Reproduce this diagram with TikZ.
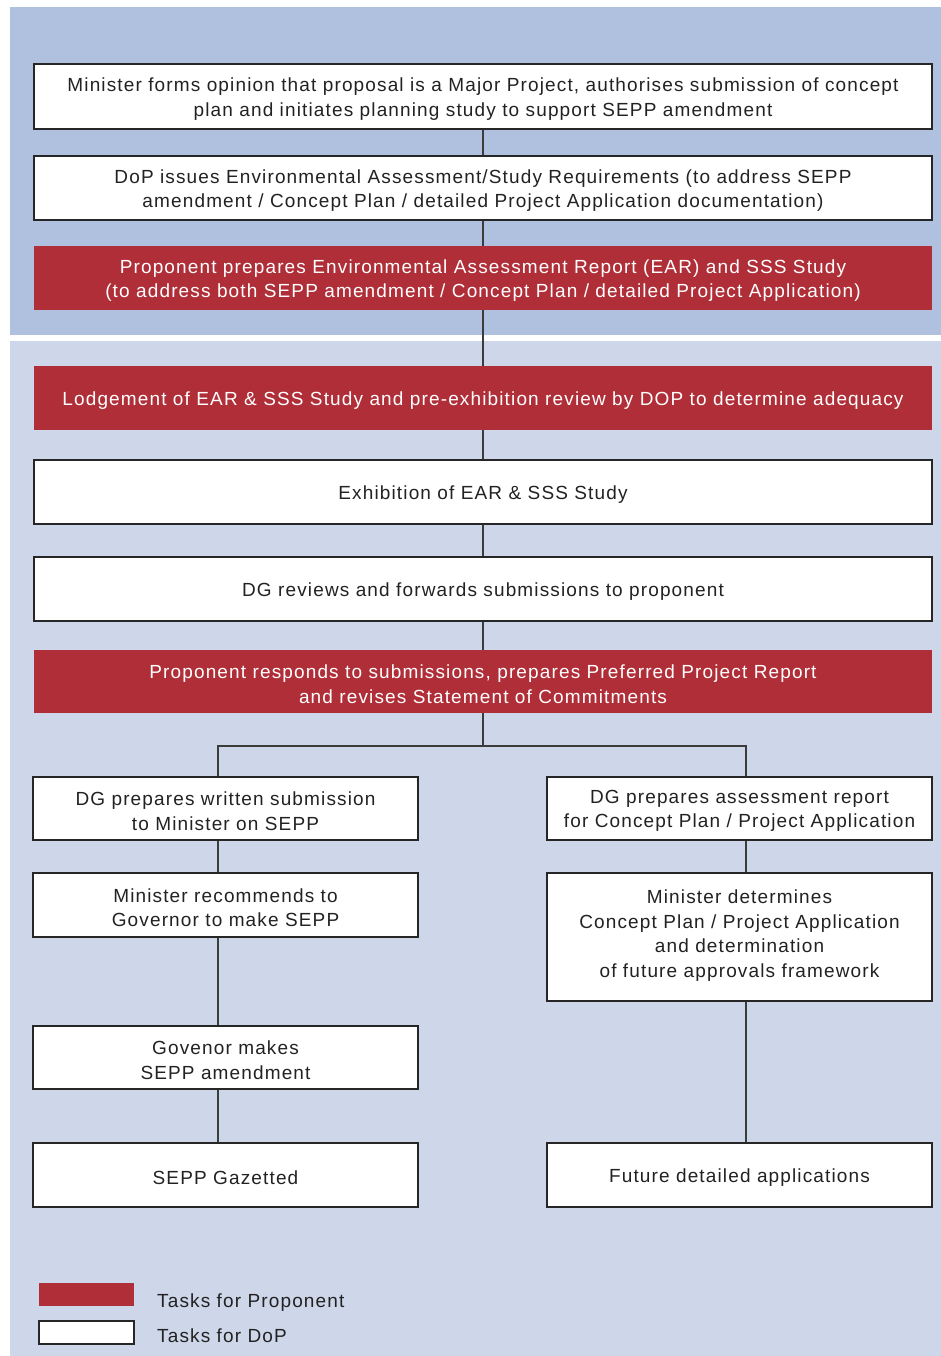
\documentclass[tikz,border=0pt]{standalone}
\usepackage{fontspec}
\setmainfont[LetterSpace=6]{Liberation Sans}
\usetikzlibrary{calc}
\definecolor{bgtop}{RGB}{176,192,223}
\definecolor{bglow}{RGB}{206,214,233}
\definecolor{propred}{RGB}{176,46,56}
\definecolor{txtdark}{RGB}{34,34,34}
\definecolor{connc}{RGB}{60,60,60}
\tikzset{
  dop/.style={draw=black!85, line width=2pt, fill=white, inner sep=0pt},
  prop/.style={draw=none, fill=propred, inner sep=0pt},
  dtext/.style={text=txtdark, align=center, inner sep=0pt, yshift=-2.5pt, font=\fontsize{19}{24.5}\selectfont},
  ptext/.style={text=white, align=center, inner sep=0pt, yshift=-2.5pt, font=\fontsize{19}{24.5}\selectfont},
  conn/.style={draw=connc, line width=2pt},
  legtext/.style={anchor=west, text=txtdark, inner sep=0pt, font=\fontsize{19}{24}\selectfont},
}
\begin{document}
\begin{tikzpicture}[x=1pt,y=-1pt]
\useasboundingbox (0,0) rectangle (941,1356);
\fill[white] (0,0) rectangle (941,1356);
\fill[bgtop] (10,7) rectangle (941,335);
\fill[bglow] (10,341) rectangle (941,1356);

\coordinate (lx) at (218,0);
\coordinate (rx) at (746,0);
\coordinate (j) at (483,746);

% main column
\node[dop, minimum width=898pt, minimum height=65pt] (b1) at (483,96.5) {};
\node[dtext] (b1t) at (b1) {Minister forms opinion that proposal is a Major Project, authorises submission of concept\\plan and initiates planning study to support SEPP amendment};
\node[dop, minimum width=898pt, minimum height=64pt] (b2) at (483,188) {};
\node[dtext] (b2t) at (b2) {DoP issues Environmental Assessment/Study Requirements (to address SEPP\\amendment / Concept Plan / detailed Project Application documentation)};
\node[prop, minimum width=898pt, minimum height=64pt] (r3) at (483,278) {};
\node[ptext] (r3t) at (r3) {Proponent prepares Environmental Assessment Report (EAR) and SSS Study\\(to address both SEPP amendment / Concept Plan / detailed Project Application)};
\node[prop, minimum width=898pt, minimum height=64pt] (r4) at (483,398) {};
\node[ptext] (r4t) at (r4) {Lodgement of EAR \& SSS Study and pre-exhibition review by DOP to determine adequacy};
\node[dop, minimum width=898pt, minimum height=64pt] (b5) at (483,492) {};
\node[dtext] (b5t) at (b5) {Exhibition of EAR \& SSS Study};
\node[dop, minimum width=898pt, minimum height=64pt] (b6) at (483,589) {};
\node[dtext] (b6t) at (b6) {DG reviews and forwards submissions to proponent};
\node[prop, minimum width=898pt, minimum height=63pt] (r7) at (483,681.5) {};
\node[ptext] (r7t) at (r7) {Proponent responds to submissions, prepares Preferred Project Report\\and revises Statement of Commitments};

% left branch
\node[dop, minimum width=385pt, minimum height=63pt] (l1) at (225.5,808.5) {};
\node[dtext] (l1t) at (l1) {DG prepares written submission\\to Minister on SEPP};
\node[dop, minimum width=385pt, minimum height=64pt] (l2) at (225.5,905) {};
\node[dtext] (l2t) at (l2) {Minister recommends to\\Governor to make SEPP};
\node[dop, minimum width=385pt, minimum height=63pt] (l3) at (225.5,1057.5) {};
\node[dtext] (l3t) at (l3) {Govenor makes\\SEPP amendment};
\node[dop, minimum width=385pt, minimum height=64pt] (l4) at (225.5,1175) {};
\node[dtext] (l4t) at (l4) {SEPP Gazetted};

% right branch
\node[dop, minimum width=385pt, minimum height=63pt] (q1) at (739.5,808.5) {};
\node[dtext] (q1t) at (q1) {DG prepares assessment report\\for Concept Plan / Project Application};
\node[dop, minimum width=385pt, minimum height=128pt] (q2) at (739.5,937) {};
\node[dtext, yshift=4pt] (q2t) at (q2) {Minister determines\\Concept Plan / Project Application\\and determination\\of future approvals framework};
\node[dop, minimum width=385pt, minimum height=64pt] (q3) at (739.5,1175) {};
\node[dtext] (q3t) at (q3) {Future detailed applications};

% connectors
\draw[conn] (b1.south) -- (b2.north);
\draw[conn] (b2.south) -- (r3.north);
\draw[conn] (r3.south) -- (r4.north);
\draw[conn] (r4.south) -- (b5.north);
\draw[conn] (b5.south) -- (b6.north);
\draw[conn] (b6.south) -- (r7.north);
\draw[conn] (r7.south) -- (j);
\draw[conn] (l1.north -| lx) |- (j) -| (q1.north -| rx);
\draw[conn] (l1.south -| lx) -- (l2.north -| lx);
\draw[conn] (l2.south -| lx) -- (l3.north -| lx);
\draw[conn] (l3.south -| lx) -- (l4.north -| lx);
\draw[conn] (q1.south -| rx) -- (q2.north -| rx);
\draw[conn] (q2.south -| rx) -- (q3.north -| rx);

% legend
\node[prop, minimum width=95pt, minimum height=23pt] (legp) at (86.5,1294.5) {};
\node[dop, minimum width=95pt, minimum height=23pt] (legd) at (86.5,1332.5) {};
\node[legtext] (legpt) at (157,1302.5) {Tasks for Proponent};
\node[legtext] (legdt) at (157,1335.5) {Tasks for DoP};
\end{tikzpicture}
\end{document}
